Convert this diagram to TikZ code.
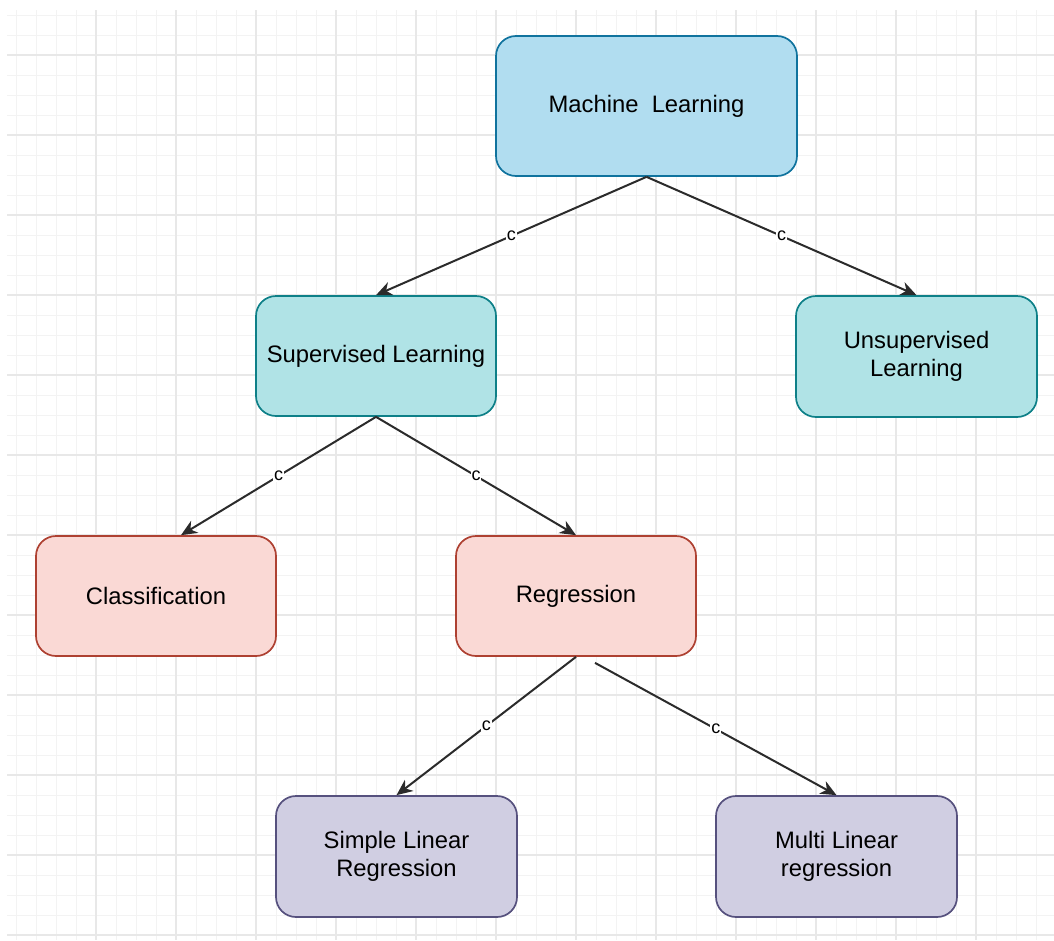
\documentclass[tikz,border=0pt]{standalone}
\usepackage{fontspec}
\setmainfont{Liberation Sans}
\usetikzlibrary{arrows.meta}

\definecolor{gridminor}{HTML}{F3F3F3}
\definecolor{gridmajor}{HTML}{E8E8E8}
\definecolor{blueFill}{HTML}{B1DDF0}
\definecolor{blueLine}{HTML}{10739E}
\definecolor{tealFill}{HTML}{B0E3E6}
\definecolor{tealLine}{HTML}{0E8088}
\definecolor{redFill}{HTML}{FAD9D5}
\definecolor{redLine}{HTML}{AE4132}
\definecolor{purpleFill}{HTML}{D0CEE2}
\definecolor{purpleLine}{HTML}{56517E}
\definecolor{edgeLine}{HTML}{2B2B2B}

\tikzset{
  box/.style={draw, rounded corners=20pt, line width=1.7pt,
    minimum width=240pt, minimum height=120pt, align=center,
    inner sep=0pt, text=black, font=\fontsize{23.8}{28}\selectfont},
  bluebox/.style={box, fill=blueFill, draw=blueLine},
  tealbox/.style={box, fill=tealFill, draw=tealLine},
  redbox/.style={box, fill=redFill, draw=redLine},
  purplebox/.style={box, fill=purpleFill, draw=purpleLine},
  link/.style={draw=edgeLine, line width=2pt,
    -{Stealth[length=16pt, width=14pt, inset=5pt]}},
  tag/.style={fill=white, inner sep=0.8pt, text=black,
    font=\fontsize{18}{18}\selectfont},
}

\begin{document}
\begin{tikzpicture}[x=1pt, y=-1pt]
  \useasboundingbox (0,0) rectangle (1054,940);

  % background grid
  \foreach \gx in {16,36,...,1054}
    \draw[gridminor, line width=1pt] (\gx,10) -- (\gx,940);
  \foreach \gy in {15,35,...,940}
    \draw[gridminor, line width=1pt] (7,\gy) -- (1054,\gy);
  \foreach \gx in {96,176,...,1054}
    \draw[gridmajor, line width=1.1pt] (\gx,10) -- (\gx,940);
  \foreach \gy in {55,135,...,940}
    \draw[gridmajor, line width=1.1pt] (7,\gy) -- (1054,\gy);

  % boxes
  \node[bluebox, minimum width=301pt, minimum height=140pt] (ml) at (646.5,106) {Machine\ \ Learning};
  \node[tealbox] (sl) at (376,356) {Supervised Learning};
  \node[tealbox, minimum width=241pt, minimum height=121pt] (ul) at (916.5,356.5) {Unsupervised\\Learning};
  \node[redbox] (cls) at (156,596) {Classification};
  \node[redbox] (reg) at (576,596) {Regression};
  \node[purplebox, minimum width=241pt, minimum height=121pt] (slr) at (396.5,856.5) {Simple Linear\\Regression};
  \node[purplebox, minimum width=241pt, minimum height=121pt] (mlr) at (836.5,856.5) {Multi Linear\\regression};

  % free ends of two connectors
  \coordinate (clsin) at ([xshift=25pt]cls.north);
  \coordinate (regout) at ([xshift=19pt, yshift=-6pt]reg.south);

  % connectors
  \draw[link] (ml.south) -- node[tag] {c} (sl.north);
  \draw[link] (ml.south) -- node[tag] {c} (ul.north);
  \draw[link] (sl.south) -- node[tag] {c} (clsin);
  \draw[link] (sl.south) -- node[tag] {c} (reg.north);
  \draw[link] (reg.south) -- node[tag] {c} (slr.north);
  \draw[link] (regout) -- node[tag] {c} (mlr.north);
\end{tikzpicture}
\end{document}
